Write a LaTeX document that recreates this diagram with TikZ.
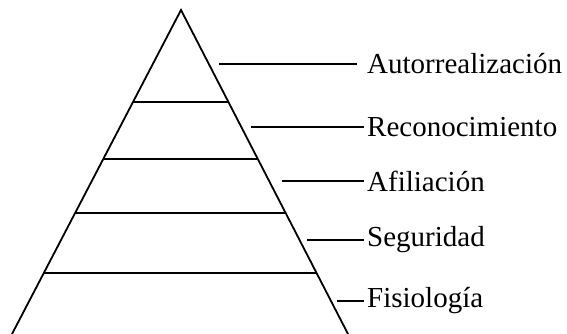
\documentclass[tikz,border=0pt]{standalone}
\usepackage{fontspec}
\setmainfont{Liberation Serif}
\usetikzlibrary{calc,positioning}
\tikzset{
	edge/.style={draw,line width=1.8pt,line join=miter},
	lead/.style={draw,line width=1.8pt},
	level/.style={anchor=west,inner sep=3pt,font=\fontsize{29}{31}\selectfont}
}
\begin{document}
\begin{tikzpicture}[x=1pt,y=-1pt]
			\useasboundingbox (0,0) rectangle (567,334);
			\coordinate (top) at (181,10);
			\coordinate (bl) at (12,334);
			\coordinate (br) at (348,334);
			
			\draw[edge] (bl) -- (top) -- (br);
			\draw[edge] ($(bl)!0.188!(top)$) -- ($(br)!0.188!(top)$);
			\draw[edge] ($(bl)!0.373!(top)$) -- ($(br)!0.373!(top)$);
			\draw[edge] ($(bl)!0.540!(top)$) -- ($(br)!0.540!(top)$);
			\draw[edge] ($(bl)!0.716!(top)$) -- ($(br)!0.716!(top)$);
			
			\node[level] (aut) at (364,64) {Autorrealización};
			\node[level] (rec) at (364,127) {Reconocimiento};
			\node[level] (afi) at (364,181) {Afiliación};
			\node[level] (seg) at (364,240) {Seguridad};
			\node[level] (fis) at (364,301) {Fisiología};
			\coordinate (saut) at (219,64);
			\coordinate (srec) at (251,127);
			\coordinate (safi) at (282,181);
			\coordinate (sseg) at (307,240);
			\coordinate (sfis) at (337,301);
			
			\draw[lead,shorten >=7pt] (saut) -- (aut.west);
			\draw[lead] (srec) -- (rec.west);
			\draw[lead] (safi) -- (afi.west);
			\draw[lead] (sseg) -- (seg.west);
			\draw[lead] (sfis) -- (fis.west);
		\end{tikzpicture}
\end{document}
